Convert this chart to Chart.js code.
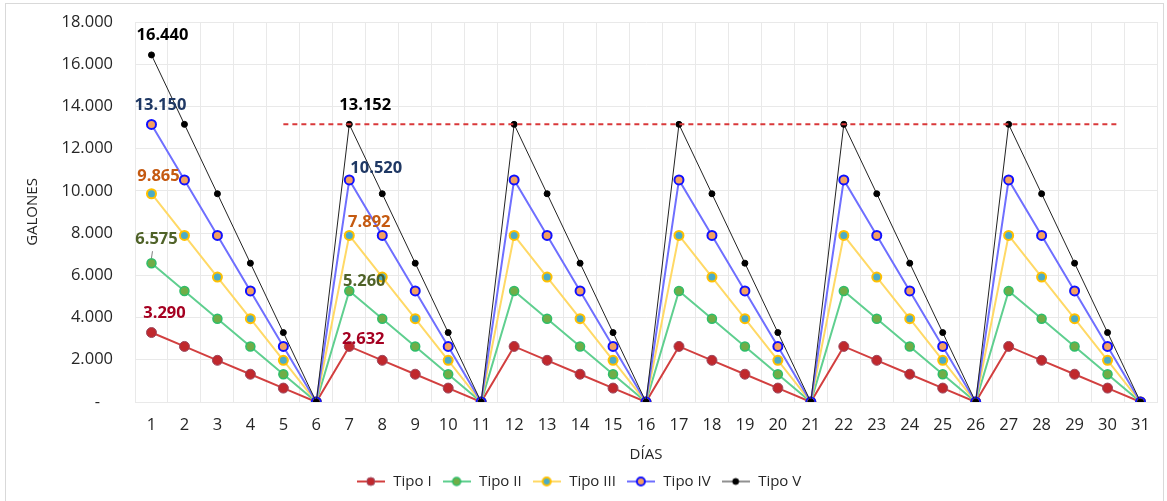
<!DOCTYPE html>
<html>
<head>
<meta charset="utf-8">
<script src="https://cdn.jsdelivr.net/npm/chart.js@4.4.1/dist/chart.umd.min.js"></script>
<style>
    html, body { margin: 0; padding: 0; background: #fff; }
    #wrap { position: relative; width: 1167px; height: 501px; overflow: hidden; }
    #marco { position: absolute; left: 5px; top: 3px; width: 1157px; height: 560px; border: 1px solid #d9d9d9; pointer-events: none; }
    canvas { display: block; }
</style>
</head>
<body>
<div id="wrap">
    <canvas id="grafico" width="1167" height="501"></canvas>
    <div id="marco"></div>
</div>
<script>
// Datos
const dias = ['1','2','3','4','5','6','7','8','9','10','11','12','13','14','15','16','17','18','19','20','21','22','23','24','25','26','27','28','29','30','31'];

const tipoI   = [3290, 2632, 1974, 1316, 658, 0, 2632, 1974, 1316, 658, 0, 2632, 1974, 1316, 658, 0, 2632, 1974, 1316, 658, 0, 2632, 1974, 1316, 658, 0, 2632, 1974, 1316, 658, 0];
const tipoII  = [6575, 5260, 3945, 2630, 1315, 0, 5260, 3945, 2630, 1315, 0, 5260, 3945, 2630, 1315, 0, 5260, 3945, 2630, 1315, 0, 5260, 3945, 2630, 1315, 0, 5260, 3945, 2630, 1315, 0];
const tipoIII = [9865, 7892, 5919, 3946, 1973, 0, 7892, 5919, 3946, 1973, 0, 7892, 5919, 3946, 1973, 0, 7892, 5919, 3946, 1973, 0, 7892, 5919, 3946, 1973, 0, 7892, 5919, 3946, 1973, 0];
const tipoIV  = [13150, 10520, 7890, 5260, 2630, 0, 10520, 7890, 5260, 2630, 0, 10520, 7890, 5260, 2630, 0, 10520, 7890, 5260, 2630, 0, 10520, 7890, 5260, 2630, 0, 10520, 7890, 5260, 2630, 0];
const tipoV   = [16440, 13152, 9864, 6576, 3288, 0, 13152, 9864, 6576, 3288, 0, 13152, 9864, 6576, 3288, 0, 13152, 9864, 6576, 3288, 0, 13152, 9864, 6576, 3288, 0, 13152, 9864, 6576, 3288, 0];

// Línea de referencia (galones) y tramo de días que cubre
const refValor = 13152;
const refDesde = 5;
const refHasta = 30.35;

// Puntos con etiqueta (índices de día)
const diasEtiquetados = [0, 6];

const FUENTE = "'Open Sans', 'Noto Sans', sans-serif";

function formatoMiles(v) {
    if (v === 0) return '-   ';
    return String(Math.round(v)).replace(/\B(?=(\d{3})+(?!\d))/g, '.');
}

// Desplazamiento de cada etiqueta respecto a su punto [dx, dy] por día etiquetado
const estiloEtiquetas = {
    'Tipo I':   { color: '#A50021', off: [[13, -19], [14, -7]] },
    'Tipo II':  { color: '#4F6228', off: [[5, -24], [15, -10]], guia: true },
    'Tipo III': { color: '#C55A11', off: [[7, -17], [20, -13]] },
    'Tipo IV':  { color: '#1F3864', off: [[9, -19], [27, -12]] },
    'Tipo V':   { color: '#000000', off: [[11, -20], [16, -19]] }
};

const datasets = [
    { label: 'Tipo I', data: tipoI, borderColor: '#D23F3F', borderWidth: 2,
      pointBackgroundColor: '#C0282D', pointBorderColor: '#9b4a60', pointBorderWidth: 1, pointRadius: 5, order: 5 },
    { label: 'Tipo II', data: tipoII, borderColor: '#5FCF8F', borderWidth: 2,
      pointBackgroundColor: '#70AD47', pointBorderColor: '#2EBE6A', pointBorderWidth: 1.5, pointRadius: 4.5, order: 4 },
    { label: 'Tipo III', data: tipoIII, borderColor: '#FFD966', borderWidth: 2,
      pointBackgroundColor: '#4BACC6', pointBorderColor: '#FFC000', pointBorderWidth: 2, pointRadius: 4.5, order: 3 },
    { label: 'Tipo IV', data: tipoIV, borderColor: '#6F6FFF', borderWidth: 2,
      pointBackgroundColor: '#F4A060', pointBorderColor: '#1010FF', pointBorderWidth: 2, pointRadius: 4.5, order: 2 },
    { label: 'Tipo V', data: tipoV, borderColor: '#222222', borderWidth: 1,
      pointBackgroundColor: '#000000', pointBorderColor: '#000000', pointBorderWidth: 1, pointRadius: 3, order: 1 }
];

datasets.forEach(ds => {
    ds.fill = false;
    ds.tension = 0;
    ds.pointHoverRadius = ds.pointRadius;
});

// Icono de leyenda: línea con marcador
function iconoLeyenda(ds) {
    const c = document.createElement('canvas');
    c.width = 28;
    c.height = 12;
    const g = c.getContext('2d');
    g.strokeStyle = ds.borderColor;
    g.lineWidth = ds.borderWidth;
    g.beginPath();
    g.moveTo(0, 6);
    g.lineTo(28, 6);
    g.stroke();
    g.beginPath();
    g.arc(14, 6, Math.min(ds.pointRadius, 4), 0, Math.PI * 2);
    g.fillStyle = ds.pointBackgroundColor;
    g.fill();
    g.lineWidth = ds.pointBorderWidth;
    g.strokeStyle = ds.pointBorderColor;
    g.stroke();
    return c;
}

const lineaReferencia = {
    id: 'lineaReferencia',
    afterDatasetsDraw(chart) {
        const x = chart.scales.x, y = chart.scales.y;
        const paso = x.getPixelForValue(1) - x.getPixelForValue(0);
        const x0 = x.getPixelForValue(0) + (refDesde - 1) * paso;
        const x1 = x.getPixelForValue(0) + (refHasta - 1) * paso;
        const py = y.getPixelForValue(refValor);
        const ctx = chart.ctx;
        ctx.save();
        ctx.strokeStyle = '#D9383A';
        ctx.lineWidth = 2;
        ctx.setLineDash([5, 4]);
        ctx.beginPath();
        ctx.moveTo(x0, py);
        ctx.lineTo(x1, py);
        ctx.stroke();
        ctx.restore();
    }
};

const etiquetasDatos = {
    id: 'etiquetasDatos',
    afterDatasetsDraw(chart) {
        const ctx = chart.ctx;
        ctx.save();
        ctx.font = 'bold 16.5px ' + FUENTE;
        ctx.textAlign = 'center';
        ctx.textBaseline = 'middle';
        chart.data.datasets.forEach((ds, i) => {
            const est = estiloEtiquetas[ds.label];
            const meta = chart.getDatasetMeta(i);
            diasEtiquetados.forEach((idx, k) => {
                const pt = meta.data[idx];
                const [dx, dy] = est.off[k];
                if (est.guia && k === 0) {
                    ctx.strokeStyle = '#7f7f7f';
                    ctx.lineWidth = 1;
                    ctx.beginPath();
                    ctx.moveTo(pt.x + 1, pt.y - 12);
                    ctx.lineTo(pt.x, pt.y - 5);
                    ctx.stroke();
                }
                ctx.fillStyle = est.color;
                ctx.fillText(formatoMiles(ds.data[idx]), pt.x + dx, pt.y + dy);
            });
        });
        ctx.restore();
    }
};

const colorRejilla = '#e9e9e9';

new Chart(document.getElementById('grafico'), {
    type: 'line',
    data: { labels: dias, datasets: datasets },
    options: {
        responsive: false,
        animation: false,
        devicePixelRatio: 1,
        layout: { padding: { left: 0, right: 10, top: 22, bottom: 2 } },
        plugins: {
            tooltip: { enabled: false },
            legend: {
                position: 'bottom',
                labels: {
                    usePointStyle: true,
                    pointStyleWidth: 30,
                    padding: 10,
                    color: '#262626',
                    font: { family: FUENTE, size: 15 },
                    generateLabels(chart) {
                        return chart.data.datasets.map((ds, i) => ({
                            text: ds.label,
                            pointStyle: iconoLeyenda(ds),
                            fillStyle: ds.pointBackgroundColor,
                            strokeStyle: ds.borderColor,
                            lineWidth: 0,
                            hidden: false,
                            datasetIndex: i,
                            fontColor: '#262626'
                        }));
                    }
                }
            }
        },
        scales: {
            x: {
                offset: true,
                grid: { color: colorRejilla, offset: true, drawTicks: false },
                border: { color: colorRejilla },
                ticks: { color: '#262626', padding: 13, maxRotation: 0, autoSkip: false, font: { family: FUENTE, size: 16.5 } },
                title: { display: true, text: 'DÍAS', color: '#262626', padding: { top: 0, bottom: 0 }, font: { family: FUENTE, size: 15 } },
                afterFit(scale) { scale.height = 62; }
            },
            y: {
                min: 0,
                max: 18000,
                grid: { color: colorRejilla, drawTicks: false },
                border: { color: colorRejilla },
                ticks: {
                    stepSize: 2000,
                    padding: 22,
                    color: '#262626',
                    font: { family: FUENTE, size: 16.5 },
                    callback: v => formatoMiles(v)
                },
                title: { display: true, text: 'GALONES', color: '#262626', padding: { top: 24, bottom: 0 }, font: { family: FUENTE, size: 15 } },
                afterFit(scale) {
                    scale.width = 135;
                    scale.paddingTop = 10;
                    scale.paddingBottom = 10;
                }
            }
        }
    },
    plugins: [lineaReferencia, etiquetasDatos]
});
</script>
</body>
</html>
